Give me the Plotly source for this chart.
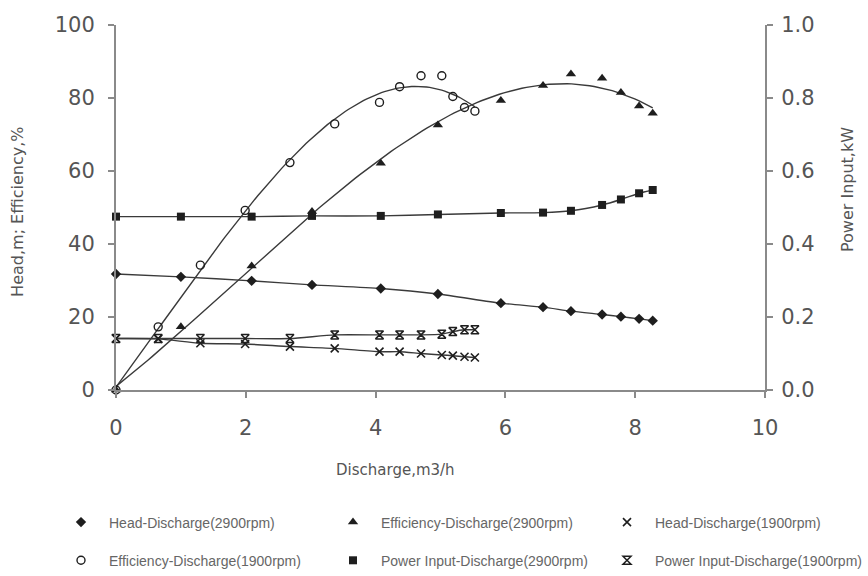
import numpy as np
import plotly.graph_objects as go

# ---------------- data ----------------
q2900 = [0, 1.0, 2.09, 3.02, 4.08, 4.96, 5.93, 6.58, 7.01, 7.49, 7.78, 8.06, 8.27]
head2900 = [31.8, 31.0, 29.9, 28.8, 27.8, 26.3, 23.8, 22.7, 21.6, 20.7, 20.1, 19.5, 19.0]
eff2900 = [0, 17.3, 34.0, 48.9, 62.1, 72.6, 79.3, 83.4, 86.6, 85.4, 81.5, 77.8, 75.8]
power2900 = [0.475, 0.475, 0.475, 0.477, 0.477, 0.481, 0.485, 0.486, 0.491, 0.507, 0.522, 0.539, 0.548]

q1900 = [0, 0.65, 1.30, 1.99, 2.68, 3.37, 4.06, 4.37, 4.70, 5.02, 5.19, 5.37, 5.53]
head1900 = [14.1, 14.0, 12.8, 12.6, 11.9, 11.4, 10.5, 10.5, 10.0, 9.6, 9.4, 9.1, 8.9]
eff1900 = [0, 17.3, 34.2, 49.2, 62.3, 72.9, 78.8, 83.1, 86.1, 86.1, 80.4, 77.4, 76.4]
power1900 = [0.141, 0.141, 0.141, 0.141, 0.141, 0.151, 0.151, 0.151, 0.151, 0.153, 0.160, 0.165, 0.165]

x_ticks = [0, 2, 4, 6, 8, 10]
y_ticks = [0, 20, 40, 60, 80, 100]
y2_ticks = [0.0, 0.2, 0.4, 0.6, 0.8, 1.0]

# ---------------- styling ----------------
MK = "#1e1e1e"
LN = "#3a3a3a"
AX = "#8a8a8a"
TX = "#555555"
FONT = "DejaVu Sans"

fig = go.Figure()


def trend(q, v, deg=3):
    c = np.polyfit(q, v, deg)
    xs = np.linspace(min(q), max(q), 120)
    return xs, np.polyval(c, xs)


line_style = dict(color=LN, width=1.4)
spline_style = dict(color=LN, width=1.4, shape="spline", smoothing=0.6)

# lines (no legend)
xs, ys = trend(q2900, eff2900, 3)
fig.add_trace(go.Scatter(x=xs, y=ys, mode="lines", line=line_style, showlegend=False, hoverinfo="skip"))
xs, ys = trend(q1900, eff1900, 3)
fig.add_trace(go.Scatter(x=xs, y=ys, mode="lines", line=line_style, showlegend=False, hoverinfo="skip"))
fig.add_trace(go.Scatter(x=q2900, y=head2900, mode="lines", line=spline_style, showlegend=False, hoverinfo="skip"))
fig.add_trace(go.Scatter(x=q1900, y=head1900, mode="lines", line=spline_style, showlegend=False, hoverinfo="skip"))
fig.add_trace(go.Scatter(x=q2900, y=power2900, yaxis="y2", mode="lines", line=spline_style, showlegend=False, hoverinfo="skip"))
fig.add_trace(go.Scatter(x=q1900, y=power1900, yaxis="y2", mode="lines", line=spline_style, showlegend=False, hoverinfo="skip"))

# markers: column 1
fig.add_trace(go.Scatter(x=q2900, y=head2900, mode="markers", name="Head-Discharge(2900rpm)",
                         marker=dict(symbol="diamond", size=8, color=MK), cliponaxis=False,
                         legend="legend", legendgroup="a"))
fig.add_trace(go.Scatter(x=q1900, y=eff1900, mode="markers", name="Efficiency-Discharge(1900rpm)",
                         marker=dict(symbol="circle-open", size=8, color=MK, line=dict(color=MK, width=1.4)),
                         cliponaxis=False, legend="legend", legendgroup="b"))
# column 2
fig.add_trace(go.Scatter(x=q2900, y=eff2900, mode="markers", name="Efficiency-Discharge(2900rpm)",
                         marker=dict(symbol="triangle-up", size=9, color=MK), cliponaxis=False,
                         legend="legend2", legendgroup="c"))
fig.add_trace(go.Scatter(x=q2900, y=power2900, yaxis="y2", mode="markers", name="Power Input-Discharge(2900rpm)",
                         marker=dict(symbol="square", size=8, color=MK), cliponaxis=False,
                         legend="legend2", legendgroup="d"))
# column 3
fig.add_trace(go.Scatter(x=q1900, y=head1900, mode="markers", name="Head-Discharge(1900rpm)",
                         marker=dict(symbol="x-thin-open", size=8, color=MK, line=dict(color=MK, width=1.6)),
                         cliponaxis=False, legend="legend3", legendgroup="e"))
fig.add_trace(go.Scatter(x=q1900, y=power1900, yaxis="y2", mode="markers", name="Power Input-Discharge(1900rpm)",
                         marker=dict(symbol="hourglass-open", size=8, color=MK, line=dict(color=MK, width=1.5)),
                         cliponaxis=False, legend="legend3", legendgroup="f"))

axis_common = dict(showgrid=False, zeroline=False, showline=True, linecolor=AX, linewidth=2,
                   ticks="outside", ticklen=6, tickwidth=1.5, tickcolor=AX,
                   tickfont=dict(family=FONT, size=21, color=TX))

legend_common = dict(orientation="v", xanchor="left", yanchor="middle", itemwidth=46,
                     xref="container", yref="container", tracegroupgap=17,
                     bgcolor="rgba(0,0,0,0)",
                     font=dict(family="Liberation Sans", size=14, color="#666666"),
                     itemclick=False, itemdoubleclick=False)

LEG_Y = 1 - 541.5 / 576

fig.update_layout(
    width=868, height=576,
    margin=dict(l=116, r=103, t=25, b=186, autoexpand=False),
    paper_bgcolor="white", plot_bgcolor="white",
    xaxis=dict(range=[0, 10], tickvals=x_ticks, ticklabelstandoff=12, **axis_common),
    yaxis=dict(range=[0, 100], tickvals=y_ticks, ticklabelstandoff=9, **axis_common),
    yaxis2=dict(range=[0, 1], tickvals=y2_ticks, tickformat=".1f", overlaying="y", side="right",
                ticklabelstandoff=4, **axis_common),
    legend=dict(x=53 / 868, y=LEG_Y, **legend_common),
    legend2=dict(x=325 / 868, y=LEG_Y, **legend_common),
    legend3=dict(x=599 / 868, y=LEG_Y, **legend_common),
    annotations=[
        dict(text="Discharge,m3/h", xref="paper", yref="paper", x=0.431, y=-0.219, showarrow=False,
             font=dict(family=FONT, size=15, color=TX), xanchor="center", yanchor="middle"),
        dict(text="Head,m; Efficiency,%", xref="paper", yref="paper", x=-0.151, y=0.488, showarrow=False,
             textangle=-90, font=dict(family=FONT, size=16, color=TX), xanchor="center", yanchor="middle"),
        dict(text="Power Input,kW", xref="paper", yref="paper", x=1.128, y=0.548, showarrow=False,
             textangle=-90, font=dict(family=FONT, size=16, color=TX), xanchor="center", yanchor="middle"),
    ],
)

fig.write_html("out.html")
